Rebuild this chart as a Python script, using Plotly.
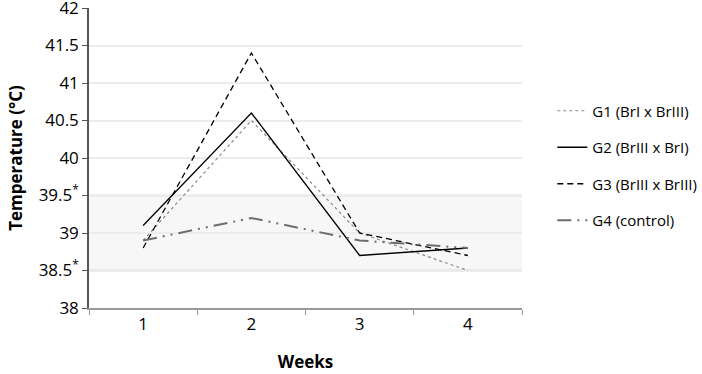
import plotly.graph_objects as go

weeks = ["1", "2", "3", "4"]
g1 = [38.9, 40.5, 39.0, 38.5]
g2 = [39.1, 40.6, 38.7, 38.8]
g3 = [38.8, 41.4, 39.0, 38.7]
g4 = [38.9, 39.2, 38.9, 38.8]
names = ["G1 (BrI x BrIII)", "G2 (BrIII x BrI)", "G3 (BrIII x BrIII)", "G4 (control)"]
ytick_vals = [38, 38.5, 39, 39.5, 40, 40.5, 41, 41.5, 42]
ytick_text = ["38", "38.5<sup>*</sup>", "39", "39.5<sup>*</sup>", "40", "40.5", "41", "41.5", "42"]
band = [38.5, 39.5]

font = "Open Sans"
fig = go.Figure()
styles = [
    dict(color="#8a8a8a", width=1.2, dash="dot"),
    dict(color="#000000", width=1.3, dash="solid"),
    dict(color="#000000", width=1.3, dash="6px,4px"),
    dict(color="#6e6e6e", width=2, dash="14px,6px,2px,6px,2px,6px"),
]
for i, (vals, nm) in enumerate(zip([g1, g2, g3, g4], names)):
    fig.add_trace(go.Scatter(x=weeks, y=vals, name=nm, mode="lines",
                             line=styles[i], legendgroup=f"g{i}"))

fig.add_shape(type="rect", xref="paper", yref="y", x0=0, x1=1, y0=band[0], y1=band[1],
              fillcolor="#f7f7f7", line_width=0, layer="below")
for b in band:
    fig.add_shape(type="line", xref="paper", yref="y", x0=0, x1=1, y0=b, y1=b,
                  line=dict(color="#bdbdbd", width=1.5), layer="below")

fig.update_layout(
    width=702, height=374,
    margin=dict(l=89, r=180, t=8, b=66, autoexpand=False),
    plot_bgcolor="white", paper_bgcolor="white",
    font=dict(family=font, color="#000000"),
    showlegend=True,
    legend=dict(x=1.07, y=0.475, xanchor="left", yanchor="middle",
                font=dict(size=15, family=font), tracegroupgap=14,
                bgcolor="rgba(0,0,0,0)"),
    xaxis=dict(type="category", range=[-0.5, 3.5], showgrid=False, showline=True,
               linecolor="#9a9a9a", linewidth=1.5, ticks="outside", tickson="boundaries",
               ticklen=5, tickcolor="#9a9a9a", tickfont=dict(size=17), automargin=False,
               title=dict(text="<b>Weeks</b>", font=dict(size=17), standoff=22)),
    yaxis=dict(range=[38, 42], tickvals=ytick_vals, ticktext=ytick_text,
               showgrid=True, gridcolor="#ececec", gridwidth=1.5,
               showline=True, linecolor="#555555", linewidth=1.5,
               ticks="outside", ticklen=5, tickcolor="#555555", automargin=False,
               tickfont=dict(size=17), zeroline=False, ticklabeloverflow="allow",
               title=dict(text="<b>Temperature (°C)</b>", font=dict(size=17), standoff=12)),
)
fig.write_html("out.html", config={"displayModeBar": False},
               post_script="document.body.style.margin='0';")
